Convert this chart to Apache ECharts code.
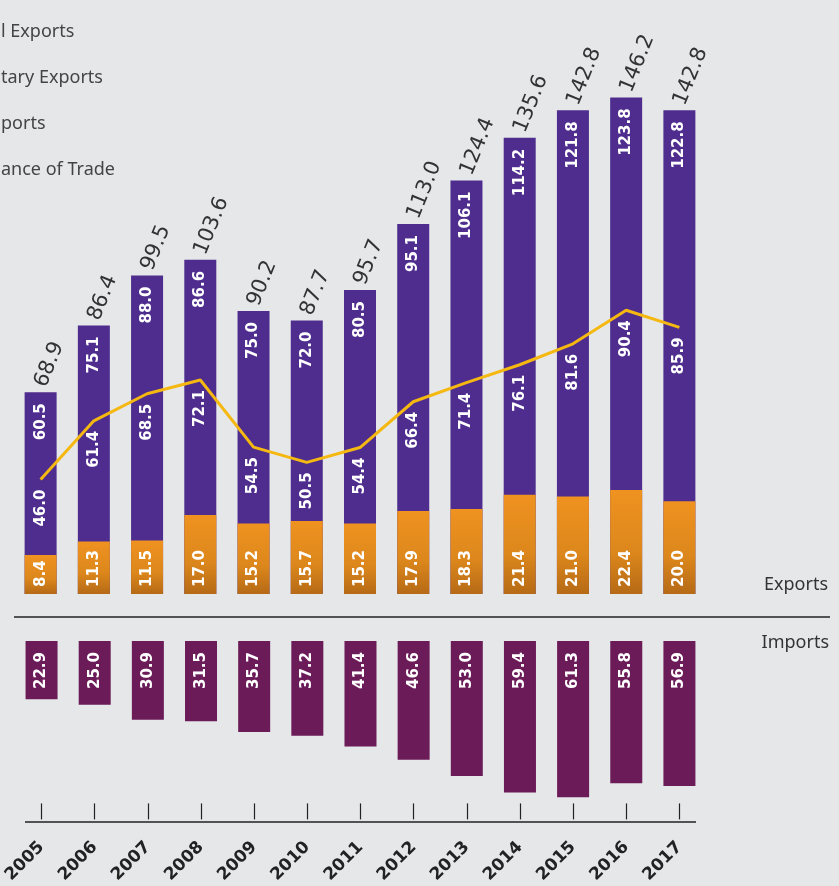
<!DOCTYPE html>
<html>
<head>
<meta charset="utf-8">
<title>Exports and Imports 2005-2017</title>
<script src="https://cdn.jsdelivr.net/npm/echarts@6/dist/echarts.min.js"></script>
<style>
  html, body { margin: 0; padding: 0; background: #e6e7e8; }
  #chart { width: 839px; height: 886px; }
</style>
</head>
<body>
<div id="chart"></div>
<script>
const years = ["2005", "2006", "2007", "2008", "2009", "2010", "2011", "2012", "2013", "2014", "2015", "2016", "2017"];
const civilExports = [60.5, 75.1, 88.0, 86.6, 75.0, 72.0, 80.5, 95.1, 106.1, 114.2, 121.8, 123.8, 122.8];
const militaryExports = [8.4, 11.3, 11.5, 17.0, 15.2, 15.7, 15.2, 17.9, 18.3, 21.4, 21.0, 22.4, 20.0];
const totalExports = [68.9, 86.4, 99.5, 103.6, 90.2, 87.7, 95.7, 113.0, 124.4, 135.6, 142.8, 146.2, 142.8];
const imports = [22.9, 25.0, 30.9, 31.5, 35.7, 37.2, 41.4, 46.6, 53.0, 59.4, 61.3, 55.8, 56.9];
const balanceOfTrade = [46.0, 61.4, 68.5, 72.1, 54.5, 50.5, 54.4, 66.4, 71.4, 76.1, 81.6, 90.4, 85.9];
const legendNames = ["Civil Exports", "Military Exports", "Imports", "Balance of Trade"];

const chart = echarts.init(document.getElementById("chart"));

// the legend runs off the left edge: only the end of each name is visible
const legendFont = '18px "Noto Sans"';
const hiddenPart = ["Civi", "Mili", "Im", "Bal"];
const ctx = document.createElement("canvas").getContext("2d");
ctx.font = legendFont;
const legendText = legendNames.map((name, i) => ({
  type: "text",
  x: 1 - ctx.measureText(hiddenPart[i]).width,
  y: 32 + i * 46,
  style: { text: name, verticalAlign: "middle", fontFamily: "Noto Sans", fontSize: 18, fill: "#444" },
}));

const valueLabel = {
  show: true,
  rotate: 90,
  color: "#fff",
  fontFamily: "DejaVu Sans",
  fontWeight: "bold",
  fontSize: 15,
  verticalAlign: "middle",
};

const option = {
  backgroundColor: "#e6e7e8",
  animation: false,
  grid: [
    { left: 14, top: 60, width: 692, height: 534 },
    { left: 14, top: 641, width: 692, height: 181 },
  ],
  xAxis: [
    {
      type: "category",
      gridIndex: 0,
      data: years,
      axisLine: { show: false },
      axisTick: { show: false },
      axisLabel: { show: false },
    },
    {
      type: "category",
      gridIndex: 1,
      position: "bottom",
      data: years,
      axisLine: { show: false, onZero: false },
      axisTick: { show: true, inside: true, length: 16, alignWithLabel: true, lineStyle: { color: "#222", width: 1.2 } },
      axisLabel: {
        rotate: 45,
        margin: 25,
        color: "#222",
        fontFamily: "DejaVu Sans",
        fontWeight: "bold",
        fontSize: 17,
      },
    },
  ],
  yAxis: [
    { type: "value", gridIndex: 0, min: 16, max: 156, show: false },
    { type: "value", gridIndex: 0, min: 0, max: 115, show: false },
    { type: "value", gridIndex: 1, min: 0, max: 70, inverse: true, show: false },
  ],
  series: [
    {
      name: "Civil Exports",
      type: "bar",
      xAxisIndex: 0,
      yAxisIndex: 0,
      barWidth: 32,
      barGap: "-100%",
      data: totalExports,
      itemStyle: { color: "#4e2d8e" },
      label: Object.assign({}, valueLabel, {
        position: "insideTop",
        distance: 11,
        align: "right",
        formatter: (p) => civilExports[p.dataIndex].toFixed(1),
      }),
    },
    {
      name: "Military Exports",
      type: "bar",
      xAxisIndex: 0,
      yAxisIndex: 1,
      barWidth: 32,
      barGap: "-100%",
      data: militaryExports,
      itemStyle: {
        color: new echarts.graphic.LinearGradient(0, 0, 0, 1, [
          { offset: 0, color: "#ef9220" },
          { offset: 0.6, color: "#dc871c" },
          { offset: 1, color: "#b66a16" },
        ]),
      },
      label: Object.assign({}, valueLabel, {
        position: "insideBottom",
        distance: 7,
        align: "left",
        formatter: (p) => p.value.toFixed(1),
      }),
    },
    {
      name: "Total Exports",
      type: "bar",
      xAxisIndex: 0,
      yAxisIndex: 0,
      barWidth: 32,
      barGap: "-100%",
      silent: true,
      data: totalExports,
      itemStyle: { color: "rgba(0,0,0,0)" },
      label: {
        show: true,
        position: "top",
        distance: 6,
        rotate: 68,
        align: "left",
        verticalAlign: "middle",
        color: "#333",
        fontFamily: "DejaVu Sans",
        fontSize: 21,
        formatter: (p) => p.value.toFixed(1),
      },
    },
    {
      name: "Balance of Trade",
      type: "line",
      xAxisIndex: 0,
      yAxisIndex: 0,
      data: balanceOfTrade,
      symbol: "circle",
      symbolSize: 0,
      lineStyle: { color: "#f5b811", width: 3 },
      itemStyle: { color: "#f5b811" },
      label: Object.assign({}, valueLabel, {
        position: "bottom",
        distance: 10,
        align: "right",
        formatter: (p) => p.value.toFixed(1),
      }),
    },
    {
      name: "Imports",
      type: "bar",
      xAxisIndex: 1,
      yAxisIndex: 2,
      barWidth: 32,
      data: imports,
      itemStyle: { color: "#6a1b58" },
      label: Object.assign({}, valueLabel, {
        position: "insideTop",
        distance: 11,
        align: "right",
        formatter: (p) => p.value.toFixed(1),
      }),
    },
  ],
  graphic: legendText.concat([
    {
      type: "line",
      shape: { x1: 14, y1: 617, x2: 830, y2: 617 },
      style: { stroke: "#222", lineWidth: 1.5 },
    },
    {
      type: "line",
      shape: { x1: 25, y1: 822, x2: 696, y2: 822 },
      style: { stroke: "#222", lineWidth: 1.5 },
    },
    {
      type: "text",
      x: 828,
      y: 585,
      style: { text: "Exports", align: "right", verticalAlign: "middle", fontFamily: "Noto Sans", fontSize: 18, fill: "#333" },
    },
    {
      type: "text",
      x: 829,
      y: 643,
      style: { text: "Imports", align: "right", verticalAlign: "middle", fontFamily: "Noto Sans", fontSize: 18, fill: "#333" },
    },
  ]),
};

chart.setOption(option);
window.addEventListener("resize", () => {
  chart && chart.resize();
});
</script>
</body>
</html>
